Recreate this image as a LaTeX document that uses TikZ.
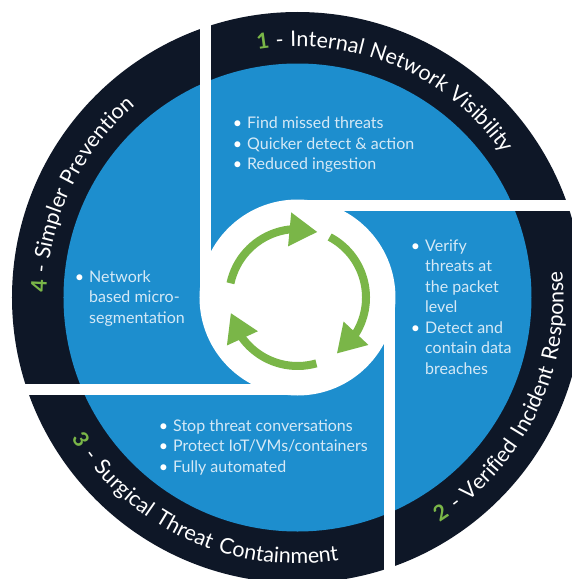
\documentclass[tikz,border=0pt]{standalone}
\usepackage{fontspec}
\setmainfont{Lato}
\newfontfamily\ringtop[LetterSpace=3]{Lato}
\newfontfamily\ringbot[LetterSpace=11]{Lato}
\usetikzlibrary{arrows.meta,bending,decorations.text}
\definecolor{ringnavy}{HTML}{0E1727}
\definecolor{ringblue}{HTML}{1D8ECE}
\definecolor{cyclegreen}{HTML}{7AB648}
\definecolor{bultext}{HTML}{D5E9F6}
\newcommand{\topfmt}{\ringtop\fontsize{21.5}{24}\selectfont\color{white}}
\newcommand{\topnum}{\ringtop\fontsize{21.5}{24}\selectfont\bfseries\color{cyclegreen}}
\newcommand{\botfmt}{\ringbot\fontsize{21.5}{24}\selectfont\color{white}}
\newcommand{\botnum}{\ringbot\fontsize{21.5}{24}\selectfont\bfseries\color{cyclegreen}}
\newcommand{\bul}{\llap{\textcolor{white}{\textbullet}\hspace{5pt}}}

\begin{document}
\begin{tikzpicture}[x=1pt,y=1pt]
	\tikzset{
		bullets/.style={anchor=north west,inner sep=0pt,align=left,text=bultext,font=\fontsize{16}{20.5}\selectfont},
		ringlabel/.style={decorate,decoration={text along path,text align=center,text={#1}}},
		cyclearrow/.style={draw=cyclegreen,line width=8pt,-{Triangle[length=28pt,width=32pt,flex]}},
		gap/.style={fill=white}
	}
	\useasboundingbox (-297.5,-281.5) rectangle (274.5,297.5);
	\clip (-297.5,-281.5) rectangle (274.5,297.5);
	\fill[white] (-297.5,-281.5) rectangle (274.5,297.5);
	\coordinate (c) at (0,0);
	% rings
	\fill[ringnavy] (c) circle[radius=285.5];
	\fill[ringblue] (c) circle[radius=234];
	\fill[white] (c) circle[radius=98];
	\path[gap] (-97.5,0) rectangle (-86.5,300);
	\path[gap] (0,97.5) rectangle (300,86.5);
	\path[gap] (97.5,0) rectangle (86.5,-300);
	\path[gap] (0,-97.5) rectangle (-300,-86.5);
	% ring labels
	\path[ringlabel={|\topnum|1|\topfmt| - Internal Network Visibility}] (127:251) arc[start angle=127,end angle=7,radius=251];
	\path[ringlabel={|\topnum|4|\topfmt| - Simpler Prevention}] (214.5:251) arc[start angle=214.5,end angle=94.5,radius=251];
	\path[ringlabel={|\botnum|2|\botfmt| - Verified Incident Response}] (-86:266) arc[start angle=-86,end angle=34,radius=266];
	\path[ringlabel={|\botnum|3|\botfmt| - Surgical Threat Containment}] (185.5:266) arc[start angle=185.5,end angle=305.5,radius=266];
	% bullets
	\node[bullets] (visibility) at (-50.5,180.5) {\bul Find missed threats\\\bul Quicker detect \& action\\\bul Reduced ingestion};
	\node[bullets] (response) at (127.5,58) {\bul Verify\\threats at\\the packet\\level\\\bul Detect and\\contain data\\breaches};
	\node[bullets] (containment) at (-124.5,-122) {\bul Stop threat conversations\\\bul Protect IoT/VMs/containers\\\bul Fully automated};
	\node[bullets] (prevention) at (-208.5,27) {\bul Network\\based micro-\\segmentation};
	% cycle
	\draw[cyclearrow] (168:68.5) arc[start angle=168,end angle=73,radius=68.5];
	\draw[cyclearrow] (62:68.5) arc[start angle=62,end angle=-55,radius=68.5];
	\draw[cyclearrow] (-74:68.5) arc[start angle=-74,end angle=-167,radius=68.5];
\end{tikzpicture}
\end{document}
